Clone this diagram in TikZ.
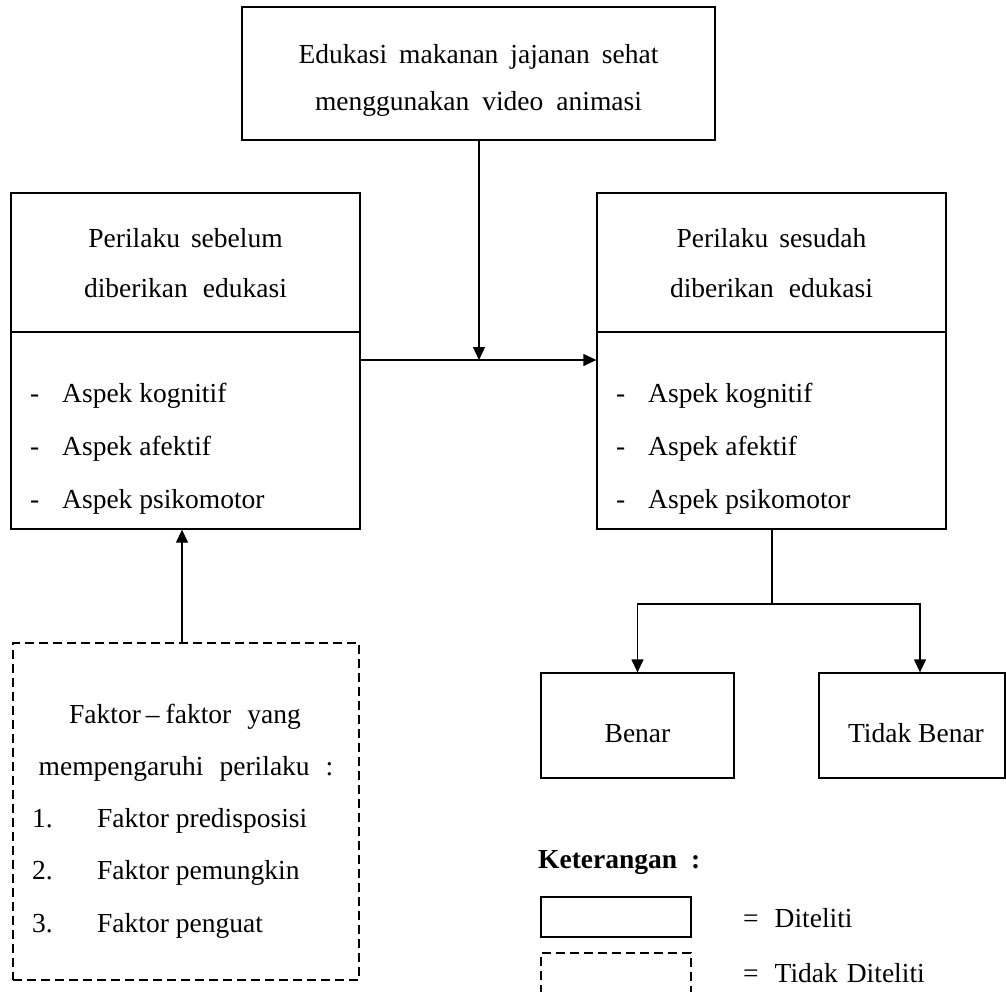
\documentclass[tikz,border=0pt]{standalone}
\usepackage{fontspec}
\setmainfont{Liberation Serif}
\usetikzlibrary{arrows.meta}
\newcommand{\gap}[1]{\hspace{#1pt}}
\begin{document}
\begin{tikzpicture}[x=1pt,y=-1pt,
  box/.style={draw, line width=1.3pt, inner sep=0pt},
  dbox/.style={box, dash pattern=on 9pt off 5pt},
  arr/.style={line width=1.3pt, -{Triangle[length=13pt,width=12pt]}},
  ln/.style={line width=1.3pt},
  ctxt/.style={font=\fontsize{27.5}{30}\selectfont, inner sep=0pt, anchor=base},
  ltxt/.style={font=\fontsize{27.5}{30}\selectfont, inner sep=0pt, anchor=base west}
]
\useasboundingbox (0,0) rectangle (1006,991);

% boxes
\node[box, minimum width=473pt, minimum height=133pt] (top) at (478.5,73.5) {};
\node[box, minimum width=349pt, minimum height=139pt] (lhead) at (185.5,262.5) {};
\node[box, minimum width=349pt, minimum height=197pt] (llow) at (185.5,430.5) {};
\node[box, minimum width=349pt, minimum height=139pt] (rhead) at (771.5,262.5) {};
\node[box, minimum width=349pt, minimum height=197pt] (rlow) at (771.5,430.5) {};
\node[dbox, minimum width=346pt, minimum height=337pt] (fak) at (186,811.5) {};
\node[box, minimum width=193pt, minimum height=105pt] (benar) at (637.5,725.5) {};
\node[box, minimum width=186pt, minimum height=105pt] (tidak) at (912,725.5) {};
\node[box, minimum width=150pt, minimum height=40pt] (legA) at (616,917) {};
\node[dbox, minimum width=150pt, minimum height=60pt] (legB) at (616,983) {};

% texts
\node[ctxt] (t1) at (478.5,63) {Edukasi\gap{12}makanan\gap{12}jajanan\gap{12}sehat};
\node[ctxt] (t2) at (478.5,110) {menggunakan\gap{13}video\gap{13}animasi};

\node[ctxt] (lh1) at (185.5,247) {Perilaku\gap{11}sebelum};
\node[ctxt] (lh2) at (185.5,297) {diberikan\gap{15}edukasi};
\node[ltxt] (ld1) at (30,402) {-};
\node[ltxt] (ld2) at (30,455) {-};
\node[ltxt] (ld3) at (30,508) {-};
\node[ltxt] (li1) at (62,402) {Aspek kognitif};
\node[ltxt] (li2) at (62,455) {Aspek afektif};
\node[ltxt] (li3) at (62,508) {Aspek psikomotor};

\node[ctxt] (rh1) at (771.5,247) {Perilaku\gap{11}sesudah};
\node[ctxt] (rh2) at (771.5,297) {diberikan\gap{15}edukasi};
\node[ltxt] (rd1) at (616,402) {-};
\node[ltxt] (rd2) at (616,455) {-};
\node[ltxt] (rd3) at (616,508) {-};
\node[ltxt] (ri1) at (648,402) {Aspek kognitif};
\node[ltxt] (ri2) at (648,455) {Aspek afektif};
\node[ltxt] (ri3) at (648,508) {Aspek psikomotor};

\node[ctxt] (f1) at (185,723) {Faktor\gap{5}--\gap{6}faktor\gap{16}yang};
\node[ctxt] (f2) at (186,775) {mempengaruhi\gap{16}perilaku\gap{16}:};
\node[ltxt] (fn1) at (32,827) {1.};
\node[ltxt] (fn2) at (32,879) {2.};
\node[ltxt] (fn3) at (32,932) {3.};
\node[ltxt] (fi1) at (97,827) {Faktor predisposisi};
\node[ltxt] (fi2) at (97,879) {Faktor pemungkin};
\node[ltxt] (fi3) at (97,932) {Faktor penguat};

\node[ctxt] (bt) at (637.5,742) {Benar};
\node[ctxt] (tt) at (916,742) {Tidak Benar};

\node[ltxt, font=\fontsize{27.5}{30}\selectfont\bfseries] (ket) at (538,868) {Keterangan\gap{14}:};
\node[ltxt] (la) at (743,927) {=\gap{16}Diteliti};
\node[ltxt] (lb) at (743,982) {=\gap{16}Tidak\gap{9}Diteliti};

% connectors
\coordinate (mid) at (479,360);
\draw[ln] (llow.east |- mid) -- (mid);
\draw[arr] (mid) -- (rlow.west |- mid);
\draw[arr] (top.south -| mid) -- (mid);
\coordinate (fu) at (182,643);
\draw[arr] (fu) -- (fu |- llow.south);
\coordinate (br) at (772,604);
\draw[ln] (br |- rlow.south) -- (br);
\draw[arr] (br) -| (benar.north);
\coordinate (tn) at (920,604);
\draw[arr] (br) -- (tn) -- (tn |- tidak.north);
\end{tikzpicture}
\end{document}
